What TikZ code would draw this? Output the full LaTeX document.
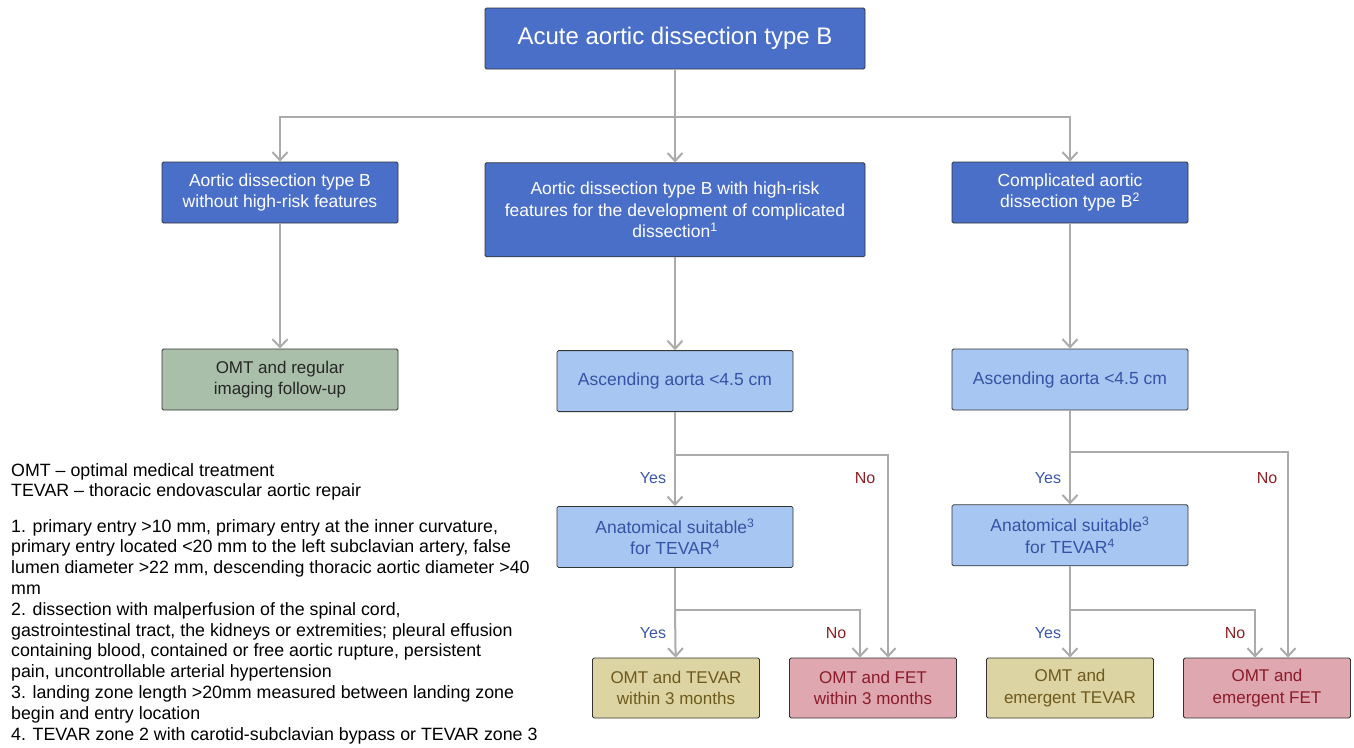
\documentclass[tikz,border=0pt]{standalone}
\usepackage{fontspec}
\setmainfont{Liberation Sans}
\usetikzlibrary{positioning}
\usetikzlibrary{arrows.meta}

\definecolor{darkblue}{HTML}{4A6FC9}
\definecolor{lightblue}{HTML}{A8C6F2}
\definecolor{lbtext}{HTML}{3553A6}
\definecolor{sage}{HTML}{A9BFA9}
\definecolor{khaki}{HTML}{DCD4A2}
\definecolor{khtext}{HTML}{6E5A1C}
\definecolor{rose}{HTML}{DFA7AF}
\definecolor{rosetext}{HTML}{8A1B2A}
\definecolor{nored}{HTML}{8E1F25}
\definecolor{yesblue}{HTML}{3A57AA}
\definecolor{wire}{HTML}{ABABAB}

\begin{document}
\begin{tikzpicture}[x=1pt,y=-1pt,>={Straight Barb[length=8pt,width=15pt]},
                node distance=93pt,
                box/.style={rectangle,draw=black!80,line width=0.8pt,rounded corners=1.5pt,
                  align=center,inner sep=2pt,font=\fontsize{17.5}{21.5}\selectfont},
                dark node/.style={box,fill=darkblue,text=white,minimum width=236pt,minimum height=61pt},
                light node/.style={box,fill=lightblue,text=lbtext,minimum width=236pt,minimum height=61pt},
                end node/.style={box,minimum width=167pt,minimum height=60pt,font=\fontsize{17}{21.5}\selectfont},
                link/.style={draw=wire,line width=2pt},
                yes/.style={text=yesblue,font=\fontsize{16}{18}\selectfont},
                no/.style={text=nored,font=\fontsize{16}{18}\selectfont},
                notes/.style={anchor=north west,align=left,inner sep=0pt,font=\fontsize{17.8}{20.8}\selectfont}]

  \useasboundingbox (0,0) rectangle (1354,747);

  % top level
  \node[dark node,minimum width=380pt,font=\fontsize{24}{26}\selectfont] (top) at (675,38.5) {Acute aortic dissection type B};
  \node[dark node,minimum width=380pt,minimum height=94pt] (highrisk) [below=of top]
    {Aortic dissection type B with high-risk\\features for the development of complicated\\dissection\textsuperscript{1}};
  \node[dark node] (uncompl) at (280,192.5) {Aortic dissection type B\\without high-risk features};
  \node[dark node] (compl) at (1070,192.5) {Complicated aortic\\dissection type B\textsuperscript{2}};

  % second level
  \node[end node,minimum width=236pt,minimum height=61pt,fill=sage,text=black!85] (omt) at (280,379.5) {OMT and regular\\imaging follow-up};
  \node[light node] (asc1) [below=of highrisk] {Ascending aorta <4.5 cm};
  \node[light node] (asc2) at (1070,379.5) {Ascending aorta <4.5 cm};
  \node[light node] (anat1) [below=94pt of asc1] {Anatomical suitable\textsuperscript{3}\\for TEVAR\textsuperscript{4}};
  \node[light node] (anat2) [below=94pt of asc2] {Anatomical suitable\textsuperscript{3}\\for TEVAR\textsuperscript{4}};

  % outcomes
  \node[end node,fill=khaki,text=khtext] (tevar1) at (676,688) {OMT and TEVAR\\within 3 months};
  \node[end node,fill=rose,text=rosetext] (fet1) at (873,688) {OMT and FET\\within 3 months};
  \node[end node,fill=khaki,text=khtext] (tevar2) at (1070,688) {OMT and\\emergent TEVAR};
  \node[end node,fill=rose,text=rosetext] (fet2) at (1267,688) {OMT and\\emergent FET};

  % branch points
  \coordinate (split) at (675,117);
  \coordinate (br1) at (675,455);
  \coordinate (br2) at (675,610);
  \coordinate (br3) at (1070,452);
  \coordinate (br4) at (1070,610);

  \draw[link] (top) -- (split);
  \draw[link] (asc1) -- (br1);
  \draw[link] (anat1) -- (br2);
  \draw[link] (asc2) -- (br3);
  \draw[link] (anat2) -- (br4);

  \draw[link,->] (split) -| (uncompl);
  \draw[link,->] (split) -- (highrisk);
  \draw[link,->] (split) -| (compl);
  \draw[link,->] (uncompl) -- (omt);
  \draw[link,->] (highrisk) -- (asc1);
  \draw[link,->] (compl) -- (asc2);
  \draw[link,->] (br1) -- (anat1);
  \draw[link,->] (br1) -| ([xshift=15pt]fet1.north);
  \draw[link,->] (br2) -- (tevar1);
  \draw[link,->] (br2) -| ([xshift=-13pt]fet1.north);
  \draw[link,->] (br3) -- (anat2);
  \draw[link,->] (br3) -| ([xshift=21pt]fet2.north);
  \draw[link,->] (br4) -- (tevar2);
  \draw[link,->] (br4) -| ([xshift=-12pt]fet2.north);

  % yes / no labels
  \node[yes] (y1) at (653,478) {Yes};
  \node[no] (n1) at (865,478) {No};
  \node[yes] (y2) at (653,633) {Yes};
  \node[no] (n2) at (836,633) {No};
  \node[yes] (y3) at (1048,478) {Yes};
  \node[no] (n3) at (1267,478) {No};
  \node[yes] (y4) at (1048,633) {Yes};
  \node[no] (n4) at (1235,633) {No};

  % legend
  \node[notes] (abbr) at (11,463) {OMT – optimal medical treatment\\TEVAR – thoracic endovascular aortic repair};
  \node[notes] (foot) at (11,519)
    {1. primary entry >10 mm, primary entry at the inner curvature,\\
     primary entry located <20 mm to the left subclavian artery, false\\
     lumen diameter >22 mm, descending thoracic aortic diameter >40\\
     mm\\
     2. dissection with malperfusion of the spinal cord,\\
     gastrointestinal tract, the kidneys or extremities; pleural effusion\\
     containing blood, contained or free aortic rupture, persistent\\
     pain, uncontrollable arterial hypertension\\
     3. landing zone length >20mm measured between landing zone\\
     begin and entry location\\
     4. TEVAR zone 2 with carotid-subclavian bypass or TEVAR zone 3};

\end{tikzpicture}
\end{document}
